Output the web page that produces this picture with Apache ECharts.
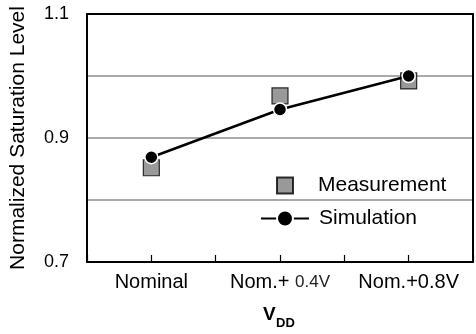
<!DOCTYPE html>
<html>
<head>
<meta charset="utf-8">
<script src="https://cdn.jsdelivr.net/npm/echarts@6/dist/echarts.min.js"></script>
<style>html,body{margin:0;padding:0;background:#fff;}#c{width:476px;height:334px;}</style>
</head>
<body>
<div id="c"></div>
<script>
const categories = ['Nominal', 'Nom.+ 0.4V', 'Nom.+0.8V'];
const measurement = [0.852, 0.968, 0.992];
const simulation = [0.869, 0.946, 1.0];
const yTickLabels = ['0.7', '0.9', '1.1'];

const FONT = 'Liberation Sans, Arial, sans-serif';
const chart = echarts.init(document.getElementById('c'), null, {renderer: 'canvas'});

const toPairs = arr => arr.map((v, i) => [i, v]);

chart.setOption({
  animation: false,
  backgroundColor: '#fff',
  textStyle: {fontFamily: FONT},
  title: [
    {text: 'V', left: 263, top: 305, padding: 0, textStyle: {fontFamily: FONT, fontSize: 19, fontWeight: 'bold', color: '#000'}},
    {text: 'DD', left: 276, top: 317, padding: 0, textStyle: {fontFamily: FONT, fontSize: 13, fontWeight: 'bold', color: '#000'}}
  ],
  grid: {left: 87, right: 1, top: 14, bottom: 72, containLabel: false},
  legend: [
    {
      data: ['Measurement'], left: 276, top: 175, padding: 0, itemWidth: 16, itemHeight: 16,
      textStyle: {fontFamily: FONT, fontSize: 21, color: '#000', padding: [0, 0, 0, 20]}
    },
    {
      data: ['Simulation'], left: 260, top: 208, padding: 0, itemWidth: 48, itemHeight: 20,
      textStyle: {fontFamily: FONT, fontSize: 21, color: '#000', padding: [0, 0, 0, 5]}
    }
  ],
  xAxis: [
    {
      type: 'value', min: -0.5, max: 2.5, interval: 0.5,
      axisLine: {show: true, onZero: false, lineStyle: {color: '#000', width: 2}},
      axisTick: {show: true, inside: true, length: 7, lineStyle: {color: '#000', width: 1.2}},
      splitLine: {show: false},
      axisLabel: {
        margin: 10, fontFamily: FONT, fontSize: 20, color: '#000',
        showMinLabel: true, showMaxLabel: true,
        formatter: v => {
          if (Math.abs(v - Math.round(v)) > 1e-6) return '';
          const i = Math.round(v);
          if (i < 0 || i >= categories.length) return '';
          if (i === 1) return '{a|Nom.+ }{b|0.4V}';
          return categories[i];
        },
        rich: {
          a: {fontFamily: FONT, fontSize: 20, color: '#000'},
          b: {fontFamily: FONT, fontSize: 17, color: '#222'}
        }
      }
    },
    {
      type: 'value', position: 'top', min: -0.5, max: 2.5, interval: 0.5,
      axisLine: {show: true, onZero: false, lineStyle: {color: '#000', width: 2}},
      axisTick: {show: false}, axisLabel: {show: false}, splitLine: {show: false}
    }
  ],
  yAxis: [
    {
      type: 'value', min: 0.7, max: 1.1, interval: 0.1,
      name: 'Normalized Saturation Level', nameLocation: 'middle', nameGap: 58,
      nameTextStyle: {fontFamily: FONT, fontSize: 21, color: '#000'},
      axisLine: {show: true, onZero: false, lineStyle: {color: '#000', width: 2}},
      axisTick: {show: false},
      splitLine: {show: true, lineStyle: {color: '#8c8c8c', width: 1.5}},
      axisLabel: {
        margin: 18, fontFamily: FONT, fontSize: 18, color: '#000',
        formatter: v => {
          const s = v.toFixed(1);
          return yTickLabels.indexOf(s) >= 0 ? s : '';
        }
      }
    },
    {
      type: 'value', position: 'right', min: 0.7, max: 1.1, interval: 0.1,
      axisLine: {show: true, onZero: false, lineStyle: {color: '#000', width: 2}},
      axisTick: {show: false}, axisLabel: {show: false}, splitLine: {show: false}
    }
  ],
  series: [
    {
      name: 'Measurement', type: 'scatter', xAxisIndex: 0, yAxisIndex: 0,
      symbol: 'rect', symbolSize: 16, z: 3,
      itemStyle: {color: '#808080', borderColor: '#000', borderWidth: 1.2},
      data: toPairs(measurement)
    },
    {
      name: 'Simulation', type: 'line', xAxisIndex: 0, yAxisIndex: 0,
      symbol: 'circle', symbolSize: 13, z: 4,
      lineStyle: {color: '#000', width: 2.5},
      itemStyle: {color: '#000', borderColor: '#fff', borderWidth: 1.5},
      data: toPairs(simulation)
    }
  ]
});
</script>
</body>
</html>
